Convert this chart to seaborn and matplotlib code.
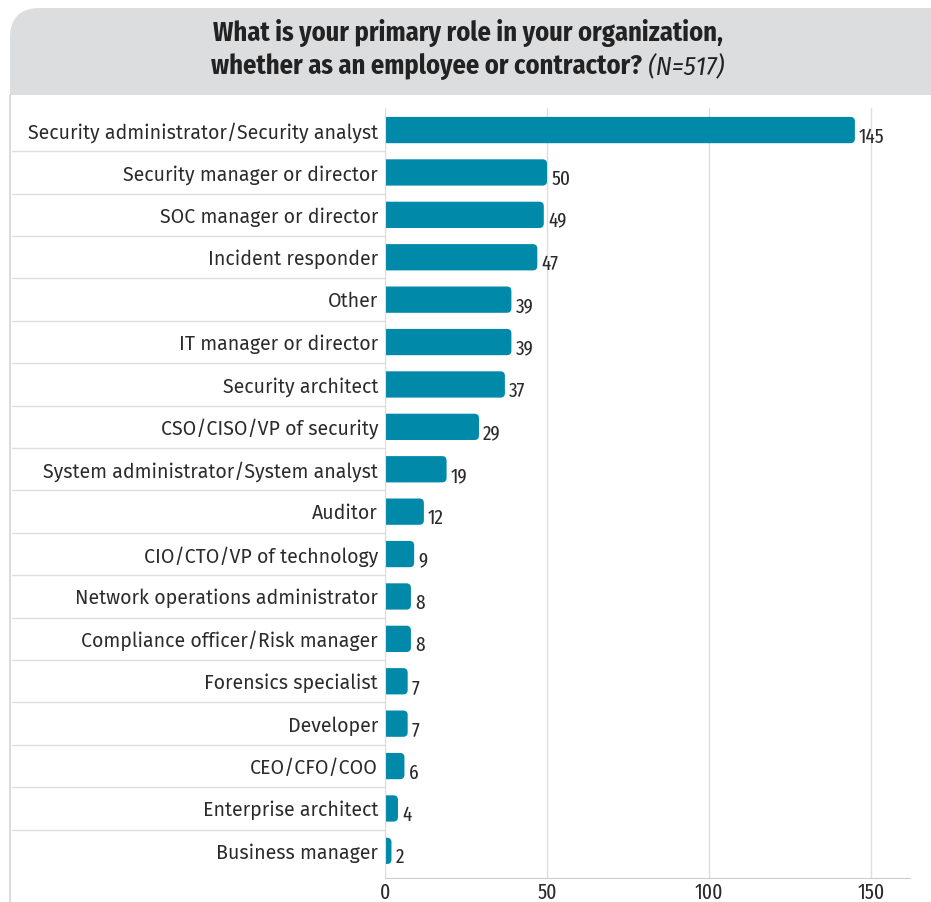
import matplotlib
matplotlib.use("Agg")
import matplotlib.pyplot as plt
import seaborn as sns
import pandas as pd
from matplotlib.patches import FancyBboxPatch, Rectangle

# survey answers, top to bottom
roles = [
    "Security administrator/Security analyst",
    "Security manager or director",
    "SOC manager or director",
    "Incident responder",
    "Other",
    "IT manager or director",
    "Security architect",
    "CSO/CISO/VP of security",
    "System administrator/System analyst",
    "Auditor",
    "CIO/CTO/VP of technology",
    "Network operations administrator",
    "Compliance officer/Risk manager",
    "Forensics specialist",
    "Developer",
    "CEO/CFO/COO",
    "Enterprise architect",
    "Business manager",
]
counts = [145, 50, 49, 47, 39, 39, 37, 29, 19, 12, 9, 8, 8, 7, 7, 6, 4, 2]
xticks = [0, 50, 100, 150]

title_1 = "What is your primary role in your organization,"
title_2 = "whether as an employee or contractor?"
title_n = " (N=517)"

bar_color = "#0189a9"
text_color = "#2b2b2b"
grid_color = "#dedede"
narrow = ["Fira Sans Condensed", "Liberation Sans Narrow", "DejaVu Sans"]
xnarrow = ["Fira Sans Extra Condensed", "Fira Sans Condensed",
           "Liberation Sans Narrow", "DejaVu Sans"]

df = pd.DataFrame({"role": roles, "count": counts})

sns.set_style("white")
plt.rcParams["font.family"] = ["Fira Sans", "Open Sans", "DejaVu Sans"]

W, H = 931, 902
fig = plt.figure(figsize=(W / 100, H / 100), dpi=100)
ax = fig.add_axes([385 / W, 1 - 878 / H, (910 - 385) / W, (878 - 108) / H])

sns.barplot(data=df, x="count", y="role", color=bar_color, width=0.62,
            saturation=1, ax=ax)
ax.set_xlim(0, 162)
ax.set_ylim(17.64, -0.52)

# swap plain bars for bars with rounded right end
bw = ax.get_window_extent().width / 162
bh = ax.get_window_extent().height / (17.64 + 0.52)
r = 4.5 / bw
for p in list(ax.patches):
    x0, y0, w, h = p.get_x(), p.get_y(), p.get_width(), p.get_height()
    p.remove()
    ax.add_patch(FancyBboxPatch((x0 - r, y0), w + r, h,
                                boxstyle=f"round,pad=0,rounding_size={r}",
                                mutation_aspect=bw / bh,
                                facecolor=bar_color, edgecolor="none"))

for i, v in enumerate(counts):
    ax.text(v + 1.3, i + 0.16, str(v), va="center", ha="left",
            fontsize=15, family=xnarrow, color=text_color)

ax.set_xticks(xticks)
ax.set_xticklabels([str(t) for t in xticks], family=xnarrow, fontsize=15.5,
                   color=text_color)
ax.tick_params(axis="y", length=0, pad=5, labelsize=14.1, labelcolor=text_color)
ax.tick_params(axis="x", length=0, pad=3)
ax.set_xlabel("")
ax.set_ylabel("")
ax.grid(axis="x", color=grid_color, linewidth=1)
ax.set_axisbelow(True)
for s in ["top", "right"]:
    ax.spines[s].set_visible(False)
ax.spines["left"].set_color(grid_color)
ax.spines["bottom"].set_color("#cccccc")

# row separators in the label column
left_edge = (12 - 385) / (910 - 385)
for i in range(len(roles) - 1):
    ax.plot([left_edge, 0], [i + 0.5, i + 0.5], color=grid_color, lw=1,
            transform=ax.get_yaxis_transform(), clip_on=False)

# title box: only the top-left corner is rounded
gray = "#dcdddf"
box = FancyBboxPatch((10 / W, 1 - 95 / H), (W + 40 - 10) / W, 87 / H,
                     boxstyle="round,pad=0,rounding_size=0.032",
                     mutation_aspect=W / H,
                     transform=fig.transFigure, facecolor=gray, edgecolor="none")
fig.patches.append(box)
fig.patches.append(Rectangle((10 / W, 1 - 95 / H), 1, 45 / H,
                             transform=fig.transFigure, facecolor=gray,
                             edgecolor="none"))
fig.add_artist(plt.Line2D([10 / W, 10 / W], [0, 1 - 95 / H],
                          transform=fig.transFigure, color="#d6d6d6", lw=1.2))

cx = 468 / W
fig.text(cx, 1 - 33 / H, title_1, ha="center", va="center", fontsize=19,
         weight="bold", family=narrow, color="#222222")
rend = fig.canvas.get_renderer()
t2 = fig.text(0, 1 - 67 / H, title_2, ha="left", va="center", fontsize=19,
              weight="bold", family=narrow, color="#222222")
tn = fig.text(0, 1 - 67 / H, title_n, ha="left", va="center", fontsize=19,
              style="italic", family=narrow, color="#222222")
w2 = t2.get_window_extent(rend).width / W
wn = tn.get_window_extent(rend).width / W
start = cx - (w2 + wn) / 2
t2.set_x(start)
tn.set_x(start + w2)

fig.savefig("out.png", dpi=100)
